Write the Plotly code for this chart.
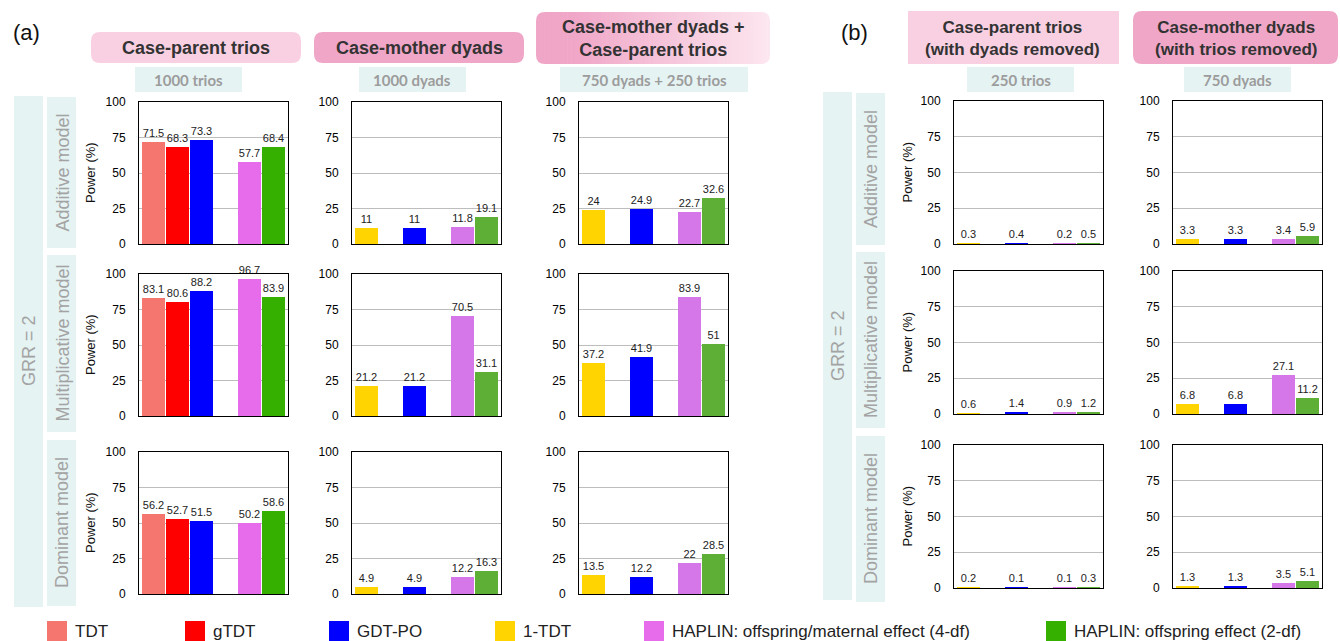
import plotly.graph_objects as go

W, H = 1340, 641

# ---------------- data ----------------
slots_trio = ["TDT", "gTDT", "GDT-PO", "gap", "HAPLIN 4-df", "HAPLIN 2-df"]
slots_dyad = ["1-TDT", "gap1", "GDT-PO", "gap2", "HAPLIN 4-df", "HAPLIN 2-df"]
methods_trio = ["TDT", "gTDT", "GDT-PO", "HAPLIN 4-df", "HAPLIN 2-df"]
methods_dyad = ["1-TDT", "GDT-PO", "HAPLIN 4-df", "HAPLIN 2-df"]
models = ["Additive model", "Multiplicative model", "Dominant model"]

# rows: additive, multiplicative, dominant
trios_1000 = [[71.5, 68.3, 73.3, 57.7, 68.4],
              [83.1, 80.6, 88.2, 96.7, 83.9],
              [56.2, 52.7, 51.5, 50.2, 58.6]]
dyads_1000 = [[11, 11, 11.8, 19.1],
              [21.2, 21.2, 70.5, 31.1],
              [4.9, 4.9, 12.2, 16.3]]
dyads750_trios250 = [[24, 24.9, 22.7, 32.6],
                     [37.2, 41.9, 83.9, 51],
                     [13.5, 12.2, 22, 28.5]]
trios_250 = [[0.3, 0.4, 0.2, 0.5],
             [0.6, 1.4, 0.9, 1.2],
             [0.2, 0.1, 0.1, 0.3]]
dyads_750 = [[3.3, 3.3, 3.4, 5.9],
             [6.8, 6.8, 27.1, 11.2],
             [1.3, 1.3, 3.5, 5.1]]

headers = ["Case-parent trios", "Case-mother dyads",
           "Case-mother dyads +<br>Case-parent trios",
           "Case-parent trios<br>(with dyads removed)",
           "Case-mother dyads<br>(with trios removed)"]
subheaders = ["1000 trios", "1000 dyads", "750 dyads + 250 trios", "250 trios", "750 dyads"]

legend_methods = ["TDT", "gTDT", "GDT-PO", "1-TDT", "HAPLIN 4-df", "HAPLIN 2-df"]
legend_labels = ["TDT", "gTDT", "GDT-PO", "1-TDT",
                 "HAPLIN: offspring/maternal effect (4-df)", "HAPLIN: offspring effect (2-df)"]

# ---------------- styles ----------------
colors_main = {"TDT": "#F5766F", "gTDT": "#FF0000", "GDT-PO": "#0000FF",
               "1-TDT": "#FFD400", "HAPLIN 4-df": "#E66CEB", "HAPLIN 2-df": "#35B000"}
colors_dyad = dict(colors_main, **{"HAPLIN 4-df": "#D577E9", "HAPLIN 2-df": "#5DAF36"})

PINK_L = "#F8D0E2"
PINK_D = "#F0A6C7"
TEAL = "#E6F3F3"
GRAY_T = "#A3A3A3"
FONT = "Liberation Sans, Arial, sans-serif"

# pixel geometry
col_x = [(139, 288), (352, 501), (579, 728), (954, 1103), (1173, 1322)]
rows_a = [(102, 244), (274, 416), (452, 594)]
rows_b = [(101, 244), (271, 414), (445, 588)]

panels = [
    (trios_1000, methods_trio, slots_trio, colors_main, col_x[0], rows_a),
    (dyads_1000, methods_dyad, slots_dyad, colors_dyad, col_x[1], rows_a),
    (dyads750_trios250, methods_dyad, slots_dyad, colors_dyad, col_x[2], rows_a),
    (trios_250, methods_dyad, slots_dyad, colors_dyad, col_x[3], rows_b),
    (dyads_750, methods_dyad, slots_dyad, colors_dyad, col_x[4], rows_b),
]


def px(x):
    return x / W


def py(y):
    return 1 - y / H


fig = go.Figure()
layout = dict(width=W, height=H, margin=dict(l=0, r=0, t=0, b=0, pad=0, autoexpand=False),
              paper_bgcolor="white", plot_bgcolor="white", showlegend=False,
              font=dict(family=FONT, color="#222"), bargap=0)

k = 0
for data, methods, slots, cmap, (x0, x1), rows in panels:
    for r, vals in enumerate(data):
        k += 1
        sx = "" if k == 1 else str(k)
        xpos = [slots.index(m) for m in methods]
        fig.add_trace(go.Bar(
            x=xpos, y=vals, width=0.93,
            marker=dict(color=[cmap[m] for m in methods], line=dict(width=0)),
            text=[str(v) for v in vals], textposition="outside",
            textfont=dict(size=11, color="#222", family=FONT),
            cliponaxis=False, constraintext="none",
            hovertext=methods, xaxis="x" + sx, yaxis="y" + sx))
        y0, y1 = rows[r]
        layout["xaxis" + sx] = dict(domain=[px(x0), px(x1)], anchor="y" + sx,
                                    range=[-0.6, 5.6], showgrid=False, zeroline=False,
                                    showticklabels=False, ticks="",
                                    showline=True, mirror=True, linecolor="black", linewidth=1)
        layout["yaxis" + sx] = dict(domain=[py(y1), py(y0)], anchor="x" + sx,
                                    range=[0, 100], tickvals=[0, 25, 50, 75, 100],
                                    showgrid=True, gridcolor="#BDBDBD", gridwidth=1,
                                    zeroline=False, ticks="", ticklabelstandoff=10,
                                    tickfont=dict(size=12, color="black", family=FONT),
                                    showline=True, mirror=True, linecolor="black", linewidth=1)

shapes = []
annotations = []


def rect(x0, y0, x1, y1, color):
    shapes.append(dict(type="rect", xref="paper", yref="paper",
                       x0=px(x0), x1=px(x1), y0=py(y1), y1=py(y0),
                       fillcolor=color, line=dict(width=0), layer="below"))


def rrect(x0, y0, x1, y1, r, color):
    p = (f"M {px(x0 + r)},{py(y0)} L {px(x1 - r)},{py(y0)} Q {px(x1)},{py(y0)} {px(x1)},{py(y0 + r)} "
         f"L {px(x1)},{py(y1 - r)} Q {px(x1)},{py(y1)} {px(x1 - r)},{py(y1)} "
         f"L {px(x0 + r)},{py(y1)} Q {px(x0)},{py(y1)} {px(x0)},{py(y1 - r)} "
         f"L {px(x0)},{py(y0 + r)} Q {px(x0)},{py(y0)} {px(x0 + r)},{py(y0)} Z")
    shapes.append(dict(type="path", xref="paper", yref="paper", path=p,
                       fillcolor=color, line=dict(width=0), layer="below"))


def text(x, y, s, size, color="#222", bold=False, angle=0, xanchor="center", family=FONT):
    annotations.append(dict(xref="paper", yref="paper", x=px(x), y=py(y),
                            text=f"<b>{s}</b>" if bold else s, showarrow=False,
                            xanchor=xanchor, yanchor="middle", textangle=angle,
                            font=dict(size=size, color=color, family=family)))


def hexmix(c1, c2, t):
    a = [int(c1[i:i + 2], 16) for i in (1, 3, 5)]
    b = [int(c2[i:i + 2], 16) for i in (1, 3, 5)]
    return "#" + "".join(f"{round(a[i] + (b[i] - a[i]) * t):02x}" for i in range(3))


# header boxes
rrect(91, 32, 301, 63, 9, PINK_L)
rrect(314, 32, 524, 63, 9, PINK_D)
# gradient header (col 3)
gx0, gx1, gy0, gy1, gr = 536, 770, 12, 64, 9
n = 60
for i in range(n):
    a = gx0 + (gx1 - gx0) * i / n
    b = gx0 + (gx1 - gx0) * (i + 1) / n + 0.6
    t = i / (n - 1)
    rect(a, gy0, min(b, gx1), gy1, hexmix(PINK_D, "#FCE6EF", min(1, max(0, (t - 0.15) / 0.85))))
for (cx, cy, sx, sy) in [(gx0, gy0, 1, 1), (gx1, gy0, -1, 1), (gx0, gy1, 1, -1), (gx1, gy1, -1, -1)]:
    p = (f"M {px(cx)},{py(cy)} L {px(cx + sx * gr)},{py(cy)} Q {px(cx)},{py(cy)} "
         f"{px(cx)},{py(cy + sy * gr)} Z")
    shapes.append(dict(type="path", xref="paper", yref="paper", path=p,
                       fillcolor="white", line=dict(width=0), layer="below"))
rect(908, 11, 1119, 64, PINK_L)
rrect(1133, 11, 1338, 64, 9, PINK_D)

header_cx = [196, 419, 653, 1013, 1236]
header_cy = [47.5, 47.5, 39, 39, 39]
header_size = [18, 18, 18, 17, 17]
for cx, cy, s, fs in zip(header_cx, header_cy, headers, header_size):
    text(cx, cy, s, fs, color="#333", bold=True)

# sub-header boxes
sub_boxes = [(135, 242), (359, 466), (560, 748), (967, 1074), (1184, 1291)]
for (a, b), s in zip(sub_boxes, subheaders):
    rect(a, 67, b, 92, TEAL)
    text((a + b) / 2, 80, s, 15, color="#9C9C9C", bold=True, family="Lato, sans-serif")

# left strips
rect(14, 96, 43, 607, TEAL)
rect(823, 92, 852, 600, TEAL)
text(29, 351, "GRR = 2", 18, color=GRAY_T, angle=-90)
text(838, 346, "GRR = 2", 18, color=GRAY_T, angle=-90)
strips_a = [(97, 248), (255, 432), (440, 606)]
strips_b = [(93, 245), (252, 428), (436, 602)]
for (a, b), m in zip(strips_a, models):
    rect(47, a, 76, b, TEAL)
    text(62, (a + b) / 2, m, 18, color=GRAY_T, angle=-90)
for (a, b), m in zip(strips_b, models):
    rect(856, a, 885, b, TEAL)
    text(871, (a + b) / 2, m, 18, color=GRAY_T, angle=-90)

# y-axis titles
for (a, b) in rows_a:
    text(90, (a + b) / 2, "Power (%)", 13, color="#111", angle=-90)
for (a, b) in rows_b:
    text(907, (a + b) / 2, "Power (%)", 13, color="#111", angle=-90)

# panel tags
text(26, 32, "(a)", 22, color="#111")
text(854, 32, "(b)", 22, color="#111")

# legend
leg_x = [47, 185, 329, 495, 644, 1046]
for lx, m, lab in zip(leg_x, legend_methods, legend_labels):
    rect(lx, 621, lx + 20, 641, colors_main[m])
    text(lx + 26, 631, lab, 17, color="#222", xanchor="left")

layout["shapes"] = shapes
layout["annotations"] = annotations
fig.update_layout(**layout)

fig.write_html("out.html", config={"displayModeBar": False},
               post_script="document.body.style.margin='0';document.body.style.overflow='hidden';")
